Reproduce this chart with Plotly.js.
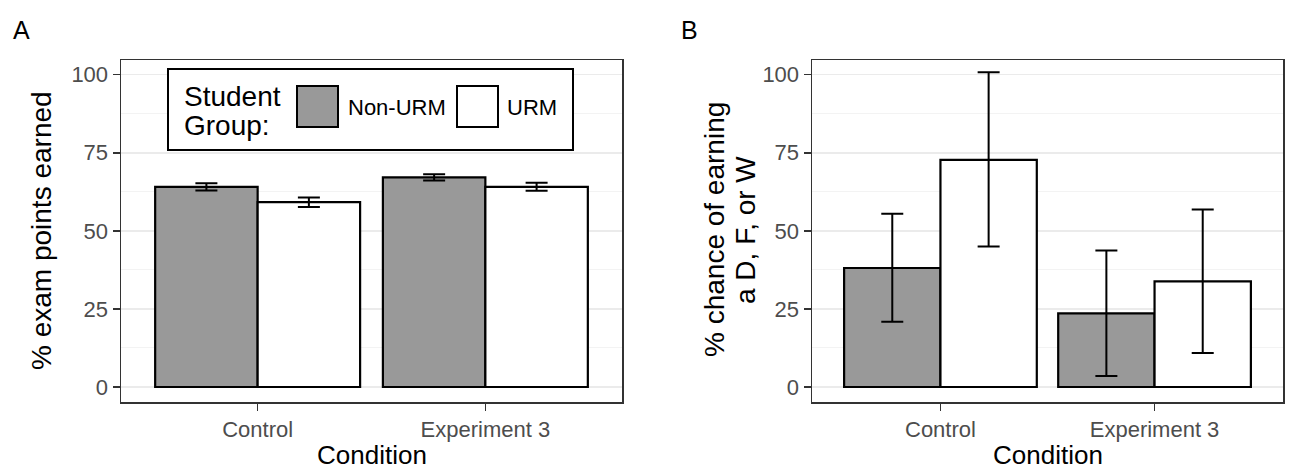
<!DOCTYPE html>
<html>
<head>
<meta charset="utf-8">
<script src="https://cdn.plot.ly/plotly-3.0.1.min.js"></script>
<style>html,body{margin:0;padding:0;background:#fff;}#chart{width:1290px;height:471px;}</style>
</head>
<body>
<div id="chart"></div>
<script>
// ---- data ----
var conditions = ['Control', 'Experiment 3'];
var groups = ['Non-URM', 'URM'];

// Panel A: % exam points earned
var examNonURM = [64.1, 67.1];
var examNonURMLow = [62.9, 66.1];
var examNonURMHigh = [65.2, 68.1];
var examURM = [59.2, 64.1];
var examURMLow = [57.6, 62.8];
var examURMHigh = [60.7, 65.4];

// Panel B: % chance of earning a D, F, or W
var dfwNonURM = [38.1, 23.6];
var dfwNonURMLow = [20.9, 3.5];
var dfwNonURMHigh = [55.5, 43.7];
var dfwURM = [72.7, 33.8];
var dfwURMLow = [45.0, 10.9];
var dfwURMHigh = [100.8, 56.8];

var yTicks = [0, 25, 50, 75, 100];
var yMinor = [12.5, 37.5, 62.5, 87.5];

// ---- helpers ----
var W = 1290, H = 471;
function px(x) { return x / W; }
function py(y) { return 1 - y / H; }
function diff(a, b) { return a.map(function (v, i) { return v - b[i]; }); }

var FONT = 'Liberation Sans, Arial, Helvetica, sans-serif';
var colors = { 'Non-URM': '#999999', 'URM': '#FFFFFF' };

function barTrace(name, vals, lo, hi, xa, ya) {
  return {
    type: 'bar', name: name, x: conditions, y: vals,
    xaxis: xa, yaxis: ya, offsetgroup: name, showlegend: false,
    marker: { color: colors[name], line: { color: '#000', width: 2.2 } },
    error_y: { type: 'data', symmetric: false, array: diff(hi, vals), arrayminus: diff(vals, lo),
      color: '#000', thickness: 2, width: 11 },
    hoverinfo: 'skip'
  };
}

var traces = [
  barTrace('Non-URM', examNonURM, examNonURMLow, examNonURMHigh, 'x', 'y'),
  barTrace('URM', examURM, examURMLow, examURMHigh, 'x', 'y'),
  barTrace('Non-URM', dfwNonURM, dfwNonURMLow, dfwNonURMHigh, 'x2', 'y2'),
  barTrace('URM', dfwURM, dfwURMLow, dfwURMHigh, 'x2', 'y2')
];

function xAxis(domain, anchor) {
  return {
    domain: domain, anchor: anchor, type: 'category', categoryorder: 'array', categoryarray: conditions,
    range: [-0.6, 1.6], showgrid: false, zeroline: false,
    showline: true, mirror: true, linecolor: '#333333', linewidth: 1.5,
    ticks: 'outside', ticklen: 7, tickwidth: 1.5, tickcolor: '#333333',
    tickfont: { family: FONT, size: 22, color: '#4D4D4D' }, fixedrange: true
  };
}
function yAxis(domain, anchor) {
  return {
    domain: domain, anchor: anchor, range: [-4.8, 104.7],
    tickmode: 'array', tickvals: yTicks, ticktext: yTicks.map(String),
    showgrid: true, gridcolor: '#EBEBEB', gridwidth: 1.5, zeroline: false,
    minor: { tickmode: 'array', tickvals: yMinor, showgrid: true, gridcolor: '#F3F3F3', gridwidth: 1, ticks: '' },
    showline: true, mirror: true, linecolor: '#333333', linewidth: 1.5,
    ticks: 'outside', ticklen: 7, tickwidth: 1.5, tickcolor: '#333333',
    tickfont: { family: FONT, size: 22, color: '#4D4D4D' }, fixedrange: true
  };
}

var yDom = [py(402), py(60)];

var annotations = [
  { text: 'A', x: px(11), y: py(30), xanchor: 'left', yanchor: 'middle', font: { size: 25 } },
  { text: 'B', x: px(679), y: py(30), xanchor: 'left', yanchor: 'middle', font: { size: 25 } },
  { text: 'Condition', x: px(371.5), y: py(455), xanchor: 'center', yanchor: 'middle', font: { size: 26 } },
  { text: 'Condition', x: px(1047.5), y: py(455), xanchor: 'center', yanchor: 'middle', font: { size: 26 } },
  { text: '% exam points earned', x: px(41), y: py(231), textangle: -90, xanchor: 'center', yanchor: 'middle', font: { size: 28 } },
  { text: '% chance of earning', x: px(714), y: py(230), textangle: -90, xanchor: 'center', yanchor: 'middle', font: { size: 28 } },
  { text: 'a D, F, or W', x: px(745), y: py(230), textangle: -90, xanchor: 'center', yanchor: 'middle', font: { size: 28 } },
  // legend texts
  { text: 'Student', x: px(182), y: py(97), xanchor: 'left', yanchor: 'middle', font: { size: 28 } },
  { text: 'Group:', x: px(182), y: py(126), xanchor: 'left', yanchor: 'middle', font: { size: 28 } },
  { text: groups[0], x: px(346), y: py(108), xanchor: 'left', yanchor: 'middle', font: { size: 22 } },
  { text: groups[1], x: px(505), y: py(108), xanchor: 'left', yanchor: 'middle', font: { size: 22 } }
].map(function (a) {
  a.xref = 'paper'; a.yref = 'paper'; a.showarrow = false;
  a.font.family = FONT; a.font.color = a.font.color || '#000';
  return a;
});

var shapes = [
  { type: 'rect', x0: px(168), x1: px(573), y0: py(150), y1: py(69), line: { color: '#000', width: 2 }, fillcolor: '#fff' },
  { type: 'rect', x0: px(297), x1: px(338), y0: py(127), y1: py(86), line: { color: '#000', width: 2 }, fillcolor: colors['Non-URM'] },
  { type: 'rect', x0: px(457), x1: px(498), y0: py(127), y1: py(86), line: { color: '#000', width: 2 }, fillcolor: colors['URM'] }
].map(function (s) { s.xref = 'paper'; s.yref = 'paper'; s.layer = 'above'; return s; });

var layout = {
  width: W, height: H,
  margin: { l: 0, r: 0, t: 0, b: 0, pad: 0 },
  paper_bgcolor: '#fff', plot_bgcolor: '#fff',
  font: { family: FONT, color: '#000' },
  barmode: 'group', bargap: 0.1, bargroupgap: 0,
  showlegend: false,
  xaxis: xAxis([px(121), px(622)], 'y'),
  yaxis: yAxis(yDom, 'x'),
  xaxis2: xAxis([px(812), px(1283)], 'y2'),
  yaxis2: yAxis(yDom, 'x2'),
  annotations: annotations,
  shapes: shapes
};

Plotly.newPlot('chart', traces, layout, { displayModeBar: false, staticPlot: true });
</script>
</body>
</html>
